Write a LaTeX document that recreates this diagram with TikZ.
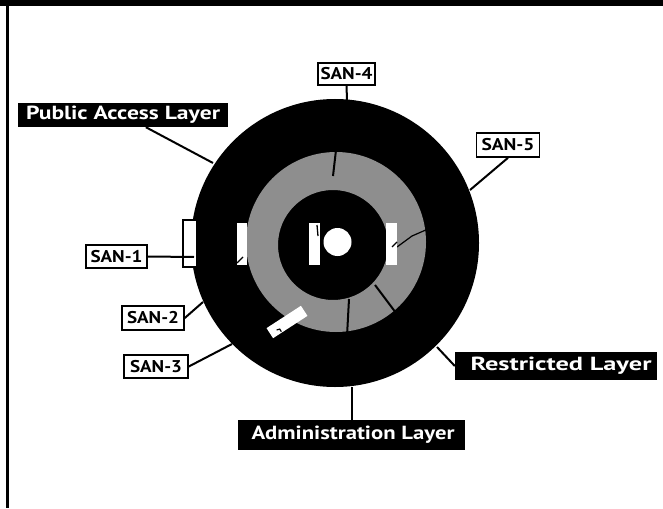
\documentclass[tikz,border=0pt]{standalone}
\usepackage{fontspec}
\usepackage{graphicx}
\setmainfont{PT Sans}
\usetikzlibrary{calc}
\definecolor{ringgray}{HTML}{8E8E8E}
\newsavebox\lblbox
\newcommand{\fitwidth}[2]{\sbox\lblbox{#2}\pgfmathsetmacro\fitsx{#1/\wd\lblbox}\scalebox{\fitsx}[1]{\usebox\lblbox}}
\tikzset{
  darklabel/.style={fill=black, text=white, font=\bfseries\fontsize{19}{21}\selectfont, inner sep=0pt, anchor=center},
  sanlabel/.style={fill=white, draw=black, line width=1.6pt, text=black, font=\bfseries\fontsize{17}{19}\selectfont, inner sep=0pt, anchor=center},
  conn/.style={line width=2pt, black},
  gap/.style={line width=2pt, black},
  slot/.style={fill=white, draw=none},
}
\begin{document}
\begin{tikzpicture}[x=1pt,y=-1pt]
\useasboundingbox (0,0) rectangle (663,508);
\fill[white] (0,0) rectangle (663,508);
% frame of the scanned page
\fill[black] (0,0) rectangle (663,6);
\fill[black] (6,0) rectangle (9,508);

% disc
\fill[black] (335,243) circle (144);
\fill[ringgray, even odd rule] (336,242) circle (90) (333,245) circle (55);
% radial gaps in the ring
\draw[gap] (336,150) -- (333,176);
\draw[gap] (349,299) -- (347,336);
\draw[gap] (375,285) -- (396,313);
\draw[line width=1.2pt] (397,247) -- (412,236) -- (428,229);
% centre
\fill[white] (337.5,242) circle (14);

% slots
\filldraw[fill=white, draw=black, line width=1.5pt] (183,220) rectangle (197,267);
\fill[slot] (237,223) rectangle (247,265);
\draw[line width=1.3pt] (237,263) -- (243,257);
\fill[slot] (309,223) rectangle (320,265);
\draw[line width=1.3pt] (317,225) -- (318,236);
\fill[slot] (386,223) rectangle (397,265);
\draw[line width=1.3pt] (392,247) -- (397,242);
\begin{scope}[shift={(287,322)}, rotate=33]
  \fill[slot] (-20.5,-6) rectangle (20.5,6);
  \draw[line width=1.2pt] (-13,1) -- (-10,2) -- (-10,5);
\end{scope}

% labels
\node[darklabel, minimum width=210pt, minimum height=24pt] (pal) at (123,115) {\fitwidth{194pt}{Public Access Layer}};
\node[darklabel, minimum width=202pt, minimum height=28pt] (rl) at (556,366) {\hspace*{10pt}\fitwidth{181pt}{Restricted Layer}};
\node[darklabel, minimum width=227pt, minimum height=30pt] (adm) at (351.5,435) {\hspace*{3pt}\fitwidth{203pt}{Administration Layer}};
\node[sanlabel, minimum width=57pt, minimum height=22pt] (san4) at (346.5,74) {\fitwidth{52pt}{SAN-4}};
\node[sanlabel, minimum width=63pt, minimum height=24pt] (san5) at (508,145) {\fitwidth{53pt}{SAN-5}};
\node[sanlabel, minimum width=61pt, minimum height=23pt] (san1) at (116.5,256.5) {\fitwidth{52pt}{SAN-1}};
\node[sanlabel, minimum width=62pt, minimum height=24pt] (san2) at (153,318) {\fitwidth{52pt}{SAN-2}};
\node[sanlabel, minimum width=64pt, minimum height=23pt] (san3) at (156,366.5) {\fitwidth{52pt}{SAN-3}};

% connector ends on the disc
\coordinate (cpal) at (213,163);
\coordinate (c4) at (347,100);
\coordinate (c5) at (470,190);
\coordinate (c1) at (194,257);
\coordinate (c2) at (203,302);
\coordinate (c3) at (232,344);
\coordinate (crl) at (437,347);
\coordinate (cadm) at (351.5,387);

\draw[conn] (pal) -- (cpal);
\draw[conn] (san4.south) -- (c4);
\draw[conn] (san5.south) -- (c5);
\draw[conn] (san1.east) -- (c1);
\draw[conn] (san2.east) -- (c2);
\draw[conn] (san3.east) -- (c3);
\draw[conn] (rl.west) -- (crl);
\draw[conn] (adm.north) -- (cadm);
\end{tikzpicture}
\end{document}
